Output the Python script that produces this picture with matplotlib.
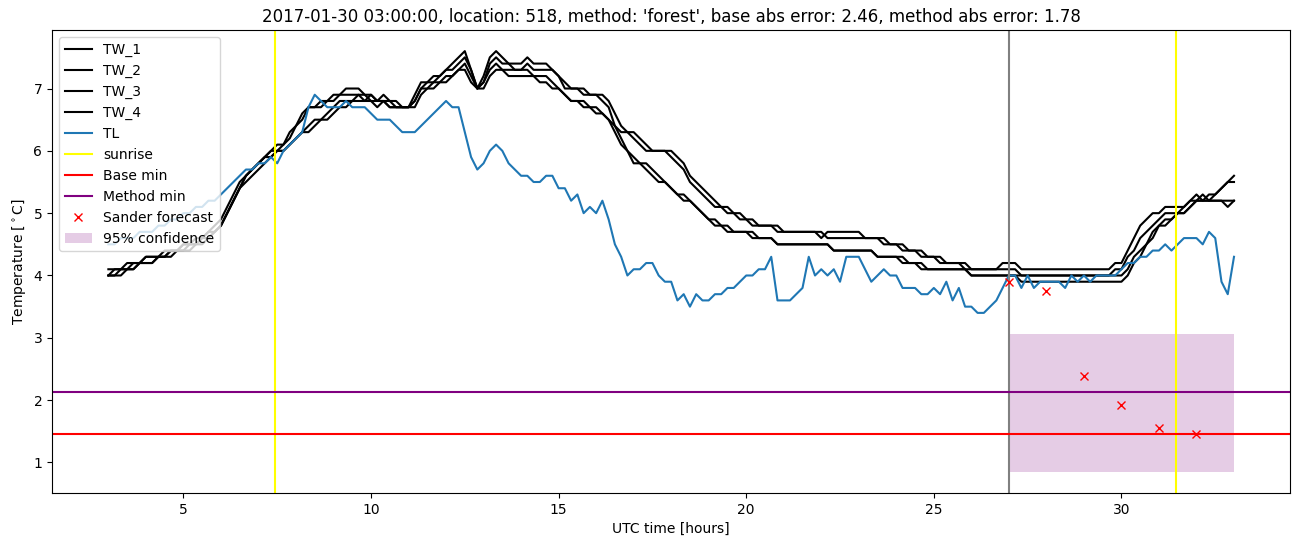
import numpy as np
import matplotlib
matplotlib.use("Agg")
import matplotlib.pyplot as plt

# 10 minute samples from 03:00 to 33:00 (hours since midnight of the day)
hours = np.linspace(3, 33, 181)

TL = [
    4.5, 4.5, 4.6, 4.6, 4.6, 4.7,
    4.7, 4.7, 4.8, 4.8, 4.9, 4.9,
    5.0, 5.0, 5.1, 5.1, 5.2, 5.2,
    5.3, 5.4, 5.5, 5.6, 5.7, 5.7,
    5.8, 5.8, 5.9, 5.8, 6.0, 6.1,
    6.2, 6.3, 6.7, 6.9, 6.8, 6.7,
    6.7, 6.7, 6.8, 6.7, 6.7, 6.7,
    6.6, 6.5, 6.5, 6.5, 6.4, 6.3,
    6.3, 6.3, 6.4, 6.5, 6.6, 6.7,
    6.8, 6.7, 6.7, 6.3, 5.9, 5.7,
    5.8, 6.0, 6.1, 6.0, 5.8, 5.7,
    5.6, 5.6, 5.5, 5.5, 5.6, 5.6,
    5.4, 5.4, 5.2, 5.3, 5.0, 5.1,
    5.0, 5.2, 4.9, 4.5, 4.3, 4.0,
    4.1, 4.1, 4.2, 4.2, 4.0, 3.9,
    3.9, 3.6, 3.7, 3.5, 3.7, 3.6,
    3.6, 3.7, 3.7, 3.8, 3.8, 3.9,
    4.0, 4.0, 4.1, 4.1, 4.3, 3.6,
    3.6, 3.6, 3.7, 3.8, 4.3, 4.0,
    4.1, 4.0, 4.1, 3.9, 4.3, 4.3,
    4.3, 4.1, 3.9, 4.0, 4.1, 4.0,
    4.0, 3.8, 3.8, 3.8, 3.7, 3.7,
    3.8, 3.7, 3.9, 3.6, 3.8, 3.5,
    3.5, 3.4, 3.4, 3.5, 3.6, 3.8,
    4.0, 4.0, 3.8, 4.0, 3.8, 3.9,
    3.9, 3.9, 3.9, 3.8, 4.0, 3.9,
    4.0, 3.9, 4.0, 4.0, 4.0, 4.0,
    4.1, 4.2, 4.2, 4.3, 4.3, 4.4,
    4.4, 4.5, 4.4, 4.5, 4.6, 4.6,
    4.6, 4.5, 4.7, 4.6, 3.9, 3.7,
    4.3,
]

TW_1 = [
    4.1, 4.1, 4.1, 4.2, 4.2, 4.2,
    4.3, 4.3, 4.3, 4.4, 4.4, 4.4,
    4.5, 4.5, 4.6, 4.6, 4.7, 4.8,
    4.9, 5.1, 5.3, 5.5, 5.6, 5.7,
    5.8, 5.9, 6.0, 6.1, 6.1, 6.3,
    6.4, 6.5, 6.7, 6.7, 6.8, 6.8,
    6.9, 6.9, 7.0, 7.0, 7.0, 6.9,
    6.9, 6.8, 6.9, 6.8, 6.8, 6.7,
    6.7, 6.9, 7.1, 7.1, 7.2, 7.2,
    7.3, 7.4, 7.5, 7.6, 7.3, 7.0,
    7.2, 7.5, 7.6, 7.5, 7.4, 7.4,
    7.4, 7.5, 7.4, 7.4, 7.4, 7.3,
    7.2, 7.0, 7.0, 7.0, 6.9, 6.9,
    6.9, 6.8, 6.7, 6.4, 6.3, 6.3,
    6.2, 6.1, 6.0, 6.0, 6.0, 6.0,
    5.9, 5.8, 5.7, 5.5, 5.4, 5.3,
    5.2, 5.1, 5.1, 5.0, 5.0, 4.9,
    4.9, 4.8, 4.8, 4.8, 4.8, 4.7,
    4.7, 4.7, 4.7, 4.7, 4.7, 4.7,
    4.6, 4.7, 4.7, 4.7, 4.7, 4.7,
    4.7, 4.6, 4.6, 4.6, 4.5, 4.5,
    4.5, 4.4, 4.4, 4.4, 4.3, 4.3,
    4.3, 4.2, 4.2, 4.2, 4.2, 4.1,
    4.1, 4.1, 4.1, 4.1, 4.1, 4.2,
    4.2, 4.2, 4.1, 4.1, 4.1, 4.1,
    4.1, 4.1, 4.1, 4.1, 4.1, 4.1,
    4.1, 4.1, 4.1, 4.1, 4.1, 4.2,
    4.2, 4.4, 4.6, 4.8, 4.9, 5.0,
    5.0, 5.1, 5.1, 5.1, 5.1, 5.2,
    5.2, 5.2, 5.2, 5.2, 5.2, 5.2,
    5.2,
]

TW_2 = [
    4.0, 4.1, 4.1, 4.1, 4.2, 4.2,
    4.3, 4.3, 4.3, 4.3, 4.4, 4.4,
    4.5, 4.5, 4.5, 4.6, 4.7, 4.7,
    4.8, 5.0, 5.2, 5.4, 5.6, 5.7,
    5.8, 5.9, 6.0, 6.0, 6.1, 6.2,
    6.4, 6.6, 6.7, 6.7, 6.7, 6.8,
    6.8, 6.9, 6.9, 6.9, 6.9, 6.8,
    6.9, 6.8, 6.8, 6.8, 6.7, 6.7,
    6.7, 6.8, 7.0, 7.1, 7.1, 7.2,
    7.3, 7.3, 7.4, 7.5, 7.3, 7.0,
    7.1, 7.4, 7.5, 7.4, 7.4, 7.3,
    7.3, 7.4, 7.3, 7.3, 7.3, 7.3,
    7.2, 7.1, 7.0, 7.0, 7.0, 6.9,
    6.9, 6.9, 6.8, 6.6, 6.4, 6.3,
    6.3, 6.2, 6.1, 6.0, 6.0, 6.0,
    6.0, 5.9, 5.8, 5.6, 5.5, 5.4,
    5.3, 5.2, 5.1, 5.1, 5.0, 5.0,
    4.9, 4.9, 4.8, 4.8, 4.8, 4.8,
    4.7, 4.7, 4.7, 4.7, 4.7, 4.7,
    4.7, 4.6, 4.6, 4.6, 4.6, 4.6,
    4.6, 4.6, 4.6, 4.6, 4.6, 4.5,
    4.5, 4.5, 4.4, 4.4, 4.4, 4.3,
    4.3, 4.3, 4.2, 4.2, 4.2, 4.2,
    4.1, 4.1, 4.1, 4.1, 4.1, 4.1,
    4.1, 4.1, 4.0, 4.0, 4.0, 4.0,
    4.0, 4.0, 4.0, 4.0, 4.0, 4.0,
    4.0, 4.0, 4.0, 4.0, 4.0, 4.1,
    4.1, 4.3, 4.4, 4.6, 4.7, 4.8,
    4.9, 5.0, 5.0, 5.0, 5.1, 5.2,
    5.3, 5.2, 5.3, 5.3, 5.4, 5.5,
    5.5,
]

TW_3 = [
    4.0, 4.0, 4.1, 4.1, 4.1, 4.2,
    4.2, 4.2, 4.3, 4.3, 4.4, 4.4,
    4.4, 4.5, 4.5, 4.6, 4.6, 4.7,
    4.8, 5.0, 5.2, 5.4, 5.6, 5.7,
    5.8, 5.9, 5.9, 6.0, 6.0, 6.1,
    6.2, 6.3, 6.4, 6.5, 6.5, 6.6,
    6.7, 6.8, 6.8, 6.8, 6.9, 6.9,
    6.8, 6.8, 6.8, 6.7, 6.7, 6.7,
    6.7, 6.8, 7.0, 7.0, 7.1, 7.1,
    7.2, 7.2, 7.3, 7.4, 7.2, 7.0,
    7.1, 7.3, 7.4, 7.3, 7.3, 7.3,
    7.3, 7.3, 7.2, 7.2, 7.2, 7.1,
    7.0, 6.9, 6.8, 6.8, 6.7, 6.7,
    6.6, 6.6, 6.5, 6.3, 6.1, 6.0,
    5.8, 5.8, 5.7, 5.6, 5.5, 5.5,
    5.4, 5.3, 5.2, 5.2, 5.1, 5.0,
    4.9, 4.8, 4.8, 4.7, 4.7, 4.7,
    4.7, 4.6, 4.6, 4.6, 4.6, 4.5,
    4.5, 4.5, 4.5, 4.5, 4.5, 4.5,
    4.5, 4.5, 4.4, 4.4, 4.4, 4.4,
    4.4, 4.4, 4.4, 4.3, 4.3, 4.3,
    4.3, 4.2, 4.2, 4.2, 4.1, 4.1,
    4.1, 4.1, 4.1, 4.1, 4.1, 4.1,
    4.0, 4.0, 4.0, 4.0, 4.0, 4.0,
    4.0, 4.0, 4.0, 4.0, 4.0, 4.0,
    4.0, 4.0, 4.0, 4.0, 4.0, 4.0,
    4.0, 4.0, 4.0, 4.0, 4.0, 4.0,
    4.0, 4.1, 4.3, 4.4, 4.5, 4.7,
    4.8, 4.8, 4.9, 5.0, 5.0, 5.1,
    5.2, 5.3, 5.2, 5.3, 5.4, 5.5,
    5.6,
]

TW_4 = [
    4.0, 4.0, 4.0, 4.1, 4.1, 4.2,
    4.2, 4.2, 4.3, 4.3, 4.3, 4.4,
    4.4, 4.4, 4.5, 4.5, 4.6, 4.7,
    4.8, 5.0, 5.2, 5.4, 5.5, 5.6,
    5.7, 5.8, 5.9, 6.0, 6.0, 6.1,
    6.2, 6.3, 6.3, 6.4, 6.5, 6.5,
    6.6, 6.7, 6.7, 6.8, 6.8, 6.8,
    6.8, 6.7, 6.8, 6.7, 6.7, 6.7,
    6.7, 6.7, 6.9, 7.0, 7.0, 7.1,
    7.1, 7.2, 7.3, 7.3, 7.1, 7.0,
    7.0, 7.2, 7.3, 7.3, 7.2, 7.2,
    7.2, 7.2, 7.2, 7.1, 7.1, 7.0,
    7.0, 6.9, 6.8, 6.8, 6.8, 6.7,
    6.7, 6.6, 6.5, 6.4, 6.2, 6.0,
    5.9, 5.8, 5.8, 5.7, 5.6, 5.5,
    5.4, 5.3, 5.3, 5.2, 5.1, 5.0,
    4.9, 4.9, 4.8, 4.8, 4.7, 4.7,
    4.7, 4.7, 4.6, 4.6, 4.6, 4.5,
    4.5, 4.5, 4.5, 4.5, 4.5, 4.5,
    4.5, 4.5, 4.4, 4.4, 4.4, 4.4,
    4.4, 4.4, 4.4, 4.3, 4.3, 4.3,
    4.3, 4.3, 4.2, 4.2, 4.2, 4.1,
    4.1, 4.1, 4.1, 4.1, 4.1, 4.1,
    4.0, 4.0, 4.0, 4.0, 4.0, 4.0,
    4.0, 4.0, 3.9, 3.9, 3.9, 3.9,
    3.9, 3.9, 3.9, 3.9, 3.9, 3.9,
    3.9, 3.9, 3.9, 3.9, 3.9, 3.9,
    3.9, 4.0, 4.2, 4.3, 4.5, 4.6,
    4.8, 4.9, 4.9, 5.0, 5.0, 5.1,
    5.2, 5.2, 5.2, 5.2, 5.2, 5.1,
    5.2,
]

sunrise_hours = [7.45, 31.45]
forecast_start = 27.0
base_min = 1.46
method_min = 2.13

sander_hours = [27, 28, 29, 30, 31, 32]
sander_temp = [3.89, 3.75, 2.38, 1.93, 1.55, 1.45]

conf_hours = [27, 33]
conf_low = [0.85, 0.85]
conf_high = [3.06, 3.06]

title = ("2017-01-30 03:00:00, location: 518, method: 'forest', "
         "base abs error: 2.46, method abs error: 1.78")

fig = plt.figure(figsize=(13.02, 5.47), dpi=100)
ax = fig.add_axes([0.040, 0.099, 0.951, 0.846])

for name, tw in [("TW_1", TW_1), ("TW_2", TW_2), ("TW_3", TW_3), ("TW_4", TW_4)]:
    ax.plot(hours, tw, color="black", label=name)
ax.plot(hours, TL, color="C0", label="TL")

ax.axvline(sunrise_hours[0], color="yellow", label="sunrise")
ax.axvline(sunrise_hours[1], color="yellow")
ax.axvline(forecast_start, color="gray")
ax.axhline(base_min, color="red", label="Base min")
ax.axhline(method_min, color="purple", label="Method min")
ax.plot(sander_hours, sander_temp, "x", color="red", label="Sander forecast")
ax.fill_between(conf_hours, conf_low, conf_high, color="purple", alpha=0.2,
                linewidth=0, label="95% confidence")

ax.set_title(title)
ax.set_xlabel("UTC time [hours]")
ax.set_ylabel(r"Temperature [$^\circ$C]")
ax.legend(loc="upper left")

fig.savefig("out.png", dpi=100)
